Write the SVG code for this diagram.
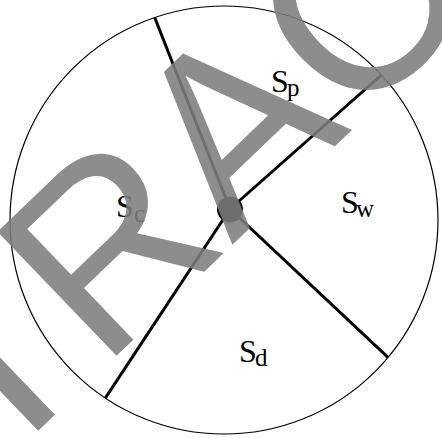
<svg xmlns="http://www.w3.org/2000/svg" width="442" height="438" viewBox="0 0 442 438">
<style>
.lbl{font-family:"Liberation Serif","Times New Roman",serif;font-size:32px;fill:#000}
.sub{font-size:25px}
.edge{stroke:#000;stroke-width:3;fill:none}
.wm{font-family:"Liberation Sans",Arial,sans-serif;font-size:250px;fill:#7d7d7d;fill-opacity:0.88}
</style>
<rect width="442" height="438" fill="#fff"/>
<g id="boundary"><circle cx="224" cy="220" r="214" fill="none" stroke="#000" stroke-width="1.2"/></g>
<g id="connectors">
<line class="edge" x1="230" y1="209" x2="154.7" y2="17.5"/>
<line class="edge" x1="230" y1="209" x2="381.4" y2="75"/>
<line class="edge" x1="230" y1="209" x2="388" y2="357.4"/>
<line class="edge" x1="230" y1="209" x2="105.3" y2="398.1"/>
</g>
<g id="center"><circle cx="230" cy="209.5" r="13" fill="#000"/></g>
<g id="Sp"><text class="lbl" x="271" y="91.5">S<tspan class="sub" x="287" y="96">p</tspan></text></g>
<g id="Sw"><text class="lbl" x="341" y="213">S<tspan class="sub" x="356" y="217">w</tspan></text></g>
<g id="Sc"><text class="lbl" x="116" y="216.5">S<tspan class="sub" x="134" y="221.5">c</tspan></text></g>
<g id="Sd"><text class="lbl" x="239" y="361.5">S<tspan class="sub" x="255" y="365.5">d</tspan></text></g>
<g id="watermark"><text class="wm" transform="translate(-8.5,475.6) rotate(-43.8)">TRACE</text></g>
</svg>
